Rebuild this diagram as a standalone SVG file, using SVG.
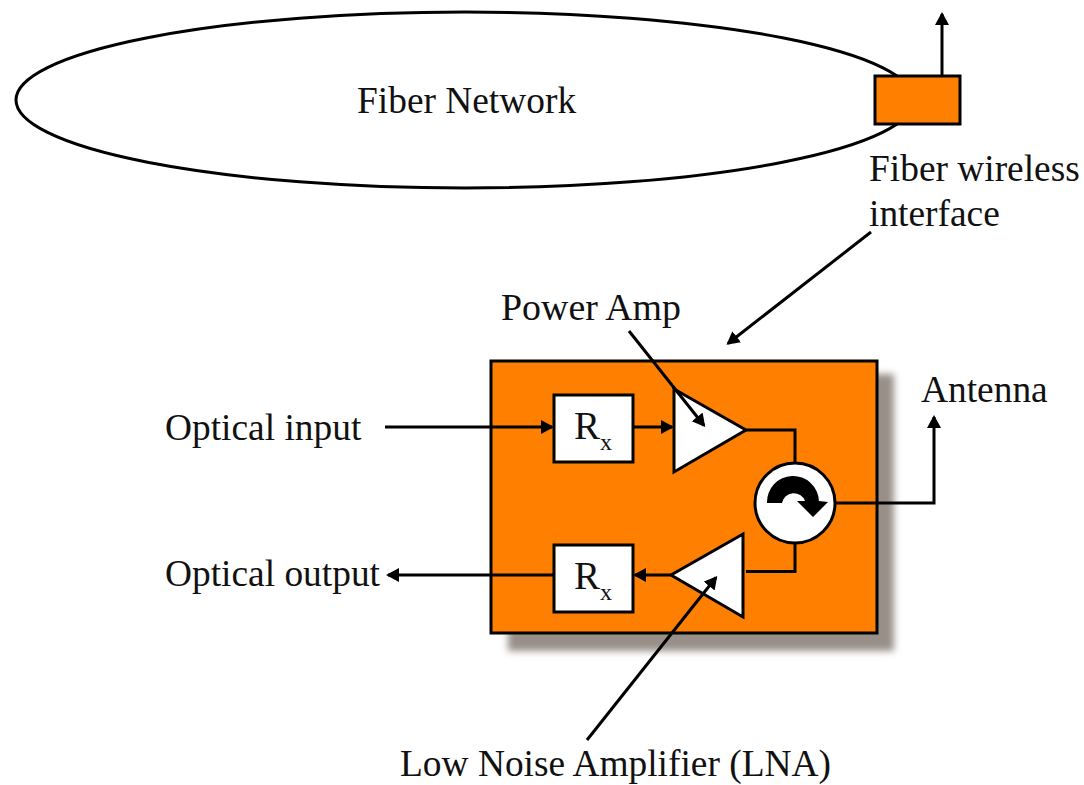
<svg xmlns="http://www.w3.org/2000/svg" width="1084" height="785" viewBox="0 0 1084 785">
<style>
text{font-family:"Liberation Serif","Times New Roman",serif;font-size:37.4px;fill:#111}
.sub{font-size:24px}
.s{stroke:#000;stroke-width:3;fill:none}
.w{stroke:#000;stroke-width:3;fill:#fff}
.o{stroke:#000;stroke-width:3;fill:#ff7f00}
</style>
<defs>
<marker id="a" markerUnits="userSpaceOnUse" markerWidth="16" markerHeight="16" refX="11" refY="7" orient="auto"><path d="M0 0L13 7L0 14Z" fill="#000"/></marker>
<filter id="b" x="-10%" y="-10%" width="120%" height="120%"><feGaussianBlur stdDeviation="3.5"/></filter>
</defs>
<g id="fiber-network"><ellipse cx="465" cy="100" rx="449" ry="88" class="s"/><text x="357" y="113">Fiber Network</text></g>
<g id="interface"><rect x="875" y="76" width="85" height="48" class="o"/><text x="869" y="181">Fiber wireless</text><text x="869" y="226">interface</text></g>
<g id="board"><rect x="508" y="374" width="386" height="277" fill="#989088" filter="url(#b)"/><rect x="491" y="361" width="386" height="272" class="o"/></g>
<g id="rx1"><rect x="554" y="395" width="79" height="67" class="w"/><text x="574" y="439" style="font-size:39px">R<tspan class="sub" dy="11">x</tspan></text></g>
<g id="rx2"><rect x="554" y="545" width="79" height="67" class="w"/><text x="574" y="589" style="font-size:39px">R<tspan class="sub" dy="11">x</tspan></text></g>
<g id="power-amp"><path d="M674 389L746 430L674 472Z" class="w"/></g>
<g id="lna"><path d="M671 575L743 534L743 617Z" class="w"/></g>
<g id="circulator"><circle cx="795" cy="503" r="40" class="w"/><path d="M767 503A26 26 0 0 1 819 501L828 502L813 517L797 501L805 501A12 12 0 0 0 782 503Z" fill="#000"/></g>
<g id="labels">
<text x="501" y="320" style="font-size:37.9px">Power Amp</text>
<text x="921" y="402">Antenna</text>
<text x="165" y="440">Optical input</text>
<text x="165" y="586">Optical output</text>
<text x="400" y="776">Low Noise Amplifier (LNA)</text>
</g>
<g id="connectors">
<path d="M942 76V14" class="s" marker-end="url(#a)"/>
<path d="M871 232L728 343.5" class="s" marker-end="url(#a)"/>
<path d="M385 427H552" class="s" marker-end="url(#a)"/>
<path d="M633 427H672" class="s" marker-end="url(#a)"/>
<path d="M629 331L704 425.5" class="s" marker-end="url(#a)"/>
<path d="M745 430H795V463" class="s"/>
<path d="M835 503H934V417" class="s" marker-end="url(#a)"/>
<path d="M795 543V571.5H746" class="s"/>
<path d="M672 575H635" class="s" marker-end="url(#a)"/>
<path d="M554 575H388" class="s" marker-end="url(#a)"/>
<path d="M587 740L716 577.5" class="s" marker-end="url(#a)"/>
</g>
</svg>
